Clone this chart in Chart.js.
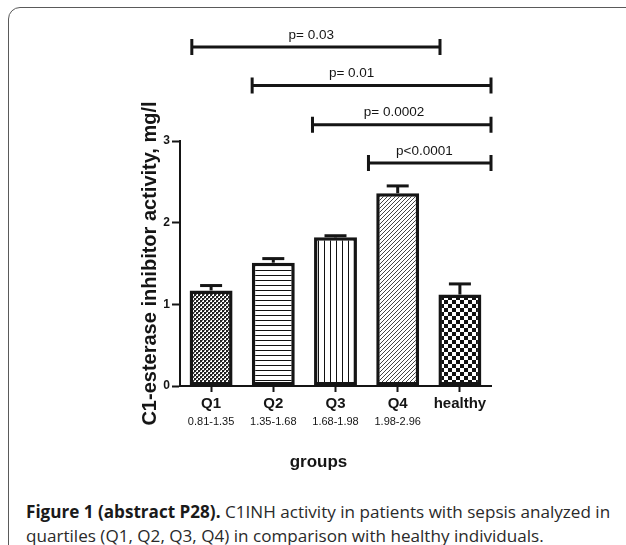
<!DOCTYPE html>
<html>
<head>
<meta charset="utf-8">
<script src="https://cdn.jsdelivr.net/npm/chart.js@4"></script>
<style>
  html, body { margin: 0; padding: 0; background: #fff; width: 626px; height: 545px; overflow: hidden; }
  #card { position: absolute; left: 8px; top: 7px; width: 720px; height: 700px; border: 1.5px solid #5a5a5a; border-radius: 12px; }
  #wrap { position: absolute; left: 0; top: 0; width: 626px; height: 495px; }
  #caption { position: absolute; left: 26px; top: 500px; width: 600px; font-family: 'Open Sans', 'Noto Sans', sans-serif; font-size: 17.1px; line-height: 24px; color: #2a2a2a; white-space: nowrap; }
  #caption b { font-weight: 700; color: #1a1a1a; }
</style>
</head>
<body>
<div id="card"></div>
<div id="wrap"><canvas id="c" width="626" height="495"></canvas></div>
<div id="caption"><b>Figure 1 (abstract P28).</b> C1INH activity in patients with sepsis analyzed in<br>quartiles (Q1, Q2, Q3, Q4) in comparison with healthy individuals.</div>
<script>
// ---- data ----
const categories = ['Q1', 'Q2', 'Q3', 'Q4', 'healthy'];
const ranges = ['0.81-1.35', '1.35-1.68', '1.68-1.98', '1.98-2.96', ''];
const means = [1.17, 1.51, 1.82, 2.36, 1.12];
const errorTop = [1.23, 1.56, 1.84, 2.45, 1.25];
const pLabels = ['p= 0.03', 'p= 0.01', 'p= 0.0002', 'p<0.0001'];
const bracketFrom = [-0.31, 0.66, 1.63, 2.53];
const bracketTo = [3.68, 4.5, 4.5, 4.5];
const bracketLevel = [4.15, 3.68, 3.20, 2.73];
const pLabelAt = [1.61, 2.26, 2.94, 3.43];
const yTitle = 'C1-esterase inhibitor activity, mg/l';
const xTitle = 'groups';

// ---- patterns ----
function tile(w, h, draw) {
  const c = document.createElement('canvas');
  c.width = w; c.height = h;
  const g = c.getContext('2d');
  g.fillStyle = '#fff'; g.fillRect(0, 0, w, h);
  g.fillStyle = '#111'; g.strokeStyle = '#111';
  draw(g);
  return document.getElementById('c').getContext('2d').createPattern(c, 'repeat');
}
const patDots = tile(4, 4, g => { g.fillStyle = '#222'; g.fillRect(0, 0, 2, 2); g.fillRect(2, 2, 2, 2); g.fillStyle = '#777'; g.fillRect(2, 0, 1, 1); g.fillRect(0, 2, 1, 1); });
const patHoriz = tile(5, 5, g => { g.fillRect(0, 0, 5, 1); });
const patVert = tile(6, 6, g => { g.fillRect(0, 0, 1, 6); });
const patDiag = tile(4, 4, g => { g.strokeStyle = '#444'; g.lineWidth = 1; g.beginPath(); g.moveTo(-1, 5); g.lineTo(5, -1); g.moveTo(-1, 1); g.lineTo(1, -1); g.moveTo(3, 5); g.lineTo(5, 3); g.stroke(); });
const patCheck = tile(8, 8, g => { g.fillRect(0, 0, 4, 4); g.fillRect(4, 4, 4, 4); });

const ink = '#151515';
Chart.defaults.font.family = "'Liberation Sans', Arial, sans-serif";
Chart.defaults.color = ink;

const extras = {
  id: 'extras',
  afterDatasetsDraw(chart) {
    const ctx = chart.ctx, xs = chart.scales.x, ys = chart.scales.y;
    const meta = chart.getDatasetMeta(0);
    ctx.save();
    ctx.strokeStyle = ink; ctx.lineWidth = 3; ctx.lineCap = 'butt';
    // error bars (upper)
    meta.data.forEach((bar, i) => {
      const x = bar.x, y0 = ys.getPixelForValue(means[i]), y1 = ys.getPixelForValue(errorTop[i]);
      ctx.beginPath(); ctx.moveTo(x, y0); ctx.lineTo(x, y1); ctx.stroke();
      ctx.beginPath(); ctx.moveTo(x - 11, y1); ctx.lineTo(x + 11, y1); ctx.stroke();
    });
    // significance brackets
    ctx.font = "13.5px 'Liberation Sans', Arial, sans-serif";
    ctx.fillStyle = ink; ctx.textAlign = 'center'; ctx.textBaseline = 'alphabetic';
    pLabels.forEach((t, i) => {
      const xa = xs.getPixelForValue(bracketFrom[i]), xb = xs.getPixelForValue(bracketTo[i]);
      const y = ys.getPixelForValue(bracketLevel[i]);
      ctx.beginPath(); ctx.moveTo(xa, y); ctx.lineTo(xb, y);
      ctx.moveTo(xa, y - 8); ctx.lineTo(xa, y + 8);
      ctx.moveTo(xb, y - 8); ctx.lineTo(xb, y + 8);
      ctx.stroke();
      ctx.fillText(t, xs.getPixelForValue(pLabelAt[i]), y - 8.5);
    });
    // quartile ranges under the group labels
    ctx.font = "11px 'Liberation Sans', Arial, sans-serif";
    ctx.textBaseline = 'middle';
    ranges.forEach((r, i) => { if (r) ctx.fillText(r, xs.getPixelForValue(i), 422); });
    // x axis title
    ctx.font = "bold 17px 'Liberation Sans', Arial, sans-serif";
    ctx.fillText(xTitle, (chart.chartArea.left + chart.chartArea.right) / 2 - 17, 462);
    ctx.restore();
  }
};

new Chart(document.getElementById('c'), {
  type: 'bar',
  data: {
    labels: categories,
    datasets: [{
      data: means,
      backgroundColor: [patDots, patHoriz, patVert, patDiag, patCheck],
      borderColor: ink,
      borderWidth: 3.5,
      borderSkipped: false,
      barPercentage: 0.69,
      categoryPercentage: 1
    }]
  },
  options: {
    responsive: false,
    animation: false,
    events: [],
    layout: { padding: { left: 130, right: 135, top: 141, bottom: 40 } },
    plugins: { legend: { display: false }, tooltip: { enabled: false } },
    scales: {
      x: {
        offset: true,
        grid: { offset: false, drawOnChartArea: false, drawTicks: true, tickLength: 6, tickWidth: 2, tickColor: ink },
        border: { display: true, color: ink, width: 2 },
        ticks: { font: { size: 15, weight: 'bold' }, color: ink, padding: 3 },
        afterFit(s) { s.height = 69; }
      },
      y: {
        min: 0, max: 3,
        grid: { drawOnChartArea: false, drawTicks: true, tickLength: 8, tickWidth: 2, tickColor: ink },
        border: { display: true, color: ink, width: 2 },
        ticks: { stepSize: 1, font: { size: 12, weight: 'bold' }, color: ink, padding: 2 },
        title: { display: true, text: yTitle, font: { size: 20, weight: 'bold' }, color: ink, padding: { top: 8, bottom: 0 } },
        afterFit(s) { s.width = 50; }
      }
    }
  },
  plugins: [extras]
});
</script>
</body>
</html>
